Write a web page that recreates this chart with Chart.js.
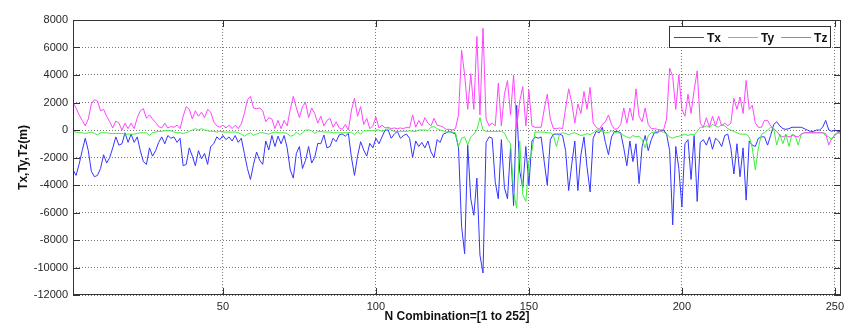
<!DOCTYPE html>
<html>
<head>
<meta charset="utf-8">
<script src="https://cdn.jsdelivr.net/npm/chart.js@4.4.0/dist/chart.umd.min.js"></script>
<style>
  html, body { margin: 0; padding: 0; background: #fff; }
  #wrap { width: 850px; height: 331px; }
</style>
</head>
<body>
<div id="wrap"><canvas id="c" width="850" height="331"></canvas></div>
<script>
// values, one per combination 1..252
var tx = [-2900,-3300,-2500,-1500,-600,-1500,-3000,-3400,-3300,-2800,
  -1800,-2400,-2000,-1300,-500,-1100,-1000,-200,-900,-300,
  -900,-500,-1500,-2300,-2500,-1300,-1900,-1500,-900,-500,
  -1000,-400,-600,-500,-900,-600,-2600,-2500,-1300,-1900,
  -2600,-1500,-2100,-1700,-2500,-1200,-1000,-500,-700,-400,
  -700,-500,-800,-400,-900,-600,-1700,-2800,-3600,-2500,
  -1600,-2200,-2500,-800,-1450,-400,-1200,-450,-1000,-400,
  -1300,-2900,-3500,-1700,-1200,-2800,-2200,-1200,-2400,-2000,
  -970,-1000,-360,-1300,-1200,-600,-850,-360,-290,-450,
  -240,-2000,-3300,-1900,-850,-1450,-1900,-970,-1300,-600,
  -1000,-500,0,0,-600,-300,-100,-600,-400,-300,
  -600,-2000,-800,-1200,-900,-1300,-800,-1600,-2000,-700,
  -900,-300,-200,-100,-200,-300,-1300,-7000,-9000,-1100,
  -5000,-6200,-3500,-9100,-10400,-900,-500,-600,-3800,-5000,
  -700,-4200,-5000,-1300,-5500,1800,-3000,-4200,-1200,-4000,
  -800,-500,-600,-500,-2300,-4000,-700,-300,-300,-300,
  -400,-1500,-4400,-2500,-800,-4400,-1800,-500,-2700,-4500,
  -600,-100,-200,200,-900,-1800,-500,-100,-100,-200,
  -1300,-2600,-800,-2300,-1000,-3900,-1200,-400,-1500,-700,
  -200,-200,-50,0,-300,-1500,-6900,-1200,-2800,-5600,
  -1000,-700,-3600,-400,-5200,-900,-700,-1100,-500,-1400,
  -600,-800,-1200,-400,-300,-1300,-3200,-1000,-3400,-1300,
  -5100,-800,-1100,-1200,-600,-500,-500,-1100,-400,400,
  600,300,100,50,100,200,200,200,200,100,
  0,-100,-100,0,0,200,700,0,-100,0,
  -100,-100];

var ty = [-100,-150,-200,-200,-250,-200,-150,-250,-350,-200,
  -200,-200,-250,-250,-250,-250,-250,-300,-300,-300,
  -300,-250,-200,-200,-200,-400,-200,-150,-100,-100,
  -50,-50,-50,-150,-200,-200,-250,-200,-100,0,
  100,0,100,0,-50,-100,-100,-150,-100,-150,
  -150,-150,-150,-150,-200,-300,-450,-300,-200,-400,
  -300,-200,-200,-250,-300,-200,-150,-200,-200,-200,
  -250,-450,-400,-150,-350,-200,0,0,-50,-250,
  -100,-100,-150,-150,-150,-200,-200,-200,-200,-200,
  -200,-150,-350,-100,-300,-50,-50,-50,-50,0,
  0,-100,0,100,0,-100,-100,-100,-100,-100,
  -50,-100,-100,0,0,0,-50,200,250,100,
  0,-50,-150,-150,-150,-200,-1200,-600,-500,-1100,
  -500,-300,0,900,0,-100,-100,-100,-100,-100,
  -100,-200,-700,-1000,-4500,-5700,-800,-4700,-5200,-2300,
  -1500,-150,-150,-150,-150,-200,-200,-400,-1200,-300,
  -200,-250,-350,-250,-200,-300,-400,-350,-250,-350,
  -200,0,0,-100,-200,-200,-50,-200,-200,-250,
  -400,-500,-600,-400,-500,-450,-700,-1300,-400,-200,
  -150,-100,-100,-150,-300,-500,-600,-500,-450,-400,
  -300,-400,-300,-350,-100,200,200,300,200,400,
  300,200,400,300,100,0,-100,-200,-300,-300,
  -300,-500,-1300,-2900,-1300,-300,-200,0,200,100,
  -1100,-300,-1000,-300,-1200,-300,-400,-1100,-300,-200,
  -200,-200,-200,-200,-200,-200,-400,-500,-700,-300,
  -200,-200];

var tz = [2000,1600,1100,700,300,800,1900,2200,2100,1400,
  1500,1000,600,150,650,500,0,500,100,500,
  100,900,1400,1550,850,1100,800,550,250,150,
  500,150,250,200,350,100,1000,1700,1500,800,
  1400,1000,1300,900,1500,1300,600,300,200,350,
  150,350,100,350,100,450,1200,2200,2450,1600,
  1550,1600,1400,600,900,800,100,700,100,700,
  300,1500,2450,1600,900,1700,2000,900,1600,1200,
  500,1000,300,700,850,200,600,150,50,400,
  0,1450,2300,1000,1700,400,850,100,300,950,
  150,350,150,200,100,150,100,150,100,200,
  150,1100,200,700,300,900,500,300,850,350,
  300,200,50,50,0,100,1100,5800,4000,1500,
  4100,1500,6800,1100,7400,800,300,500,300,3400,
  300,2600,3600,1100,4000,200,2100,3150,300,2900,
  300,200,200,200,1500,2600,800,100,100,150,
  100,1600,3000,2000,500,1900,1200,2800,1500,3100,
  500,200,50,400,600,1100,400,50,100,400,
  1600,500,1600,700,3000,1000,600,1600,400,100,
  100,50,0,0,800,4500,3900,1500,4000,1500,
  1000,2600,1200,2900,4300,500,200,900,200,1000,
  300,1000,300,500,300,500,2300,1500,2400,1200,
  3600,1500,1800,500,200,200,700,700,300,100,
  -100,-400,-500,-400,-500,-400,-450,-500,-300,-200,
  -200,-200,-200,-200,-200,-200,-250,-1100,-600,-400,
  -200,-250];

var seriesNames = ['Tx', 'Ty', 'Tz'];
var seriesColors = ['#3535ff', '#3cf03c', '#ff44ff'];
var xTickValues = [50, 100, 150, 200, 250];
var yMin = -12000, yMax = 8000, yStep = 2000;

var FONT = '"Liberation Sans", Arial, Helvetica, sans-serif';

function toPoints(arr) {
  var pts = [];
  for (var i = 0; i < arr.length; i++) {
    pts.push({x: i + 1, y: arr[i]});
  }
  return pts;
}

// matlab style box with inward ticks on all four sides
var boxAxes = {
  id: 'boxAxes',
  beforeDatasetsDraw: function(chart) {
    var ctx = chart.ctx, a = chart.chartArea;
    var xs = chart.scales.x, ys = chart.scales.y;
    ctx.save();
    ctx.strokeStyle = '#333';
    ctx.lineWidth = 1;
    ctx.beginPath();
    xs.ticks.forEach(function(t) {
      var px = Math.round(xs.getPixelForValue(t.value)) + 0.5;
      ctx.moveTo(px, a.bottom); ctx.lineTo(px, a.bottom - 7);
      ctx.moveTo(px, a.top); ctx.lineTo(px, a.top + 7);
    });
    ys.ticks.forEach(function(t) {
      var py = Math.round(ys.getPixelForValue(t.value)) + 0.5;
      ctx.moveTo(a.left, py); ctx.lineTo(a.left + 7, py);
      ctx.moveTo(a.right, py); ctx.lineTo(a.right - 7, py);
    });
    ctx.stroke();
    ctx.restore();
  },
  afterDatasetsDraw: function(chart) {
    var ctx = chart.ctx, a = chart.chartArea;
    ctx.save();
    ctx.strokeStyle = '#333';
    ctx.lineWidth = 1;
    ctx.strokeRect(Math.round(a.left) + 0.5, Math.round(a.top) + 0.5,
      Math.round(a.right - a.left) - 1, Math.round(a.bottom - a.top) - 1);
    ctx.restore();
  }
};

// legend drawn inside the plot, top right
var boxLegend = {
  id: 'boxLegend',
  afterDraw: function(chart) {
    var ctx = chart.ctx, a = chart.chartArea;
    ctx.save();
    ctx.font = 'bold 12px ' + FONT;
    var lineLen = 30, gapText = 3, gapItem = 7, padL = 5, padR = 3;
    var w = padL + padR;
    seriesNames.forEach(function(name, i) {
      w += lineLen + gapText + ctx.measureText(name).width;
      if (i < seriesNames.length - 1) w += gapItem;
    });
    w = Math.round(w);
    var h = 21;
    var right = Math.round(a.right) - 11;
    var top = Math.round(a.top) + 6;
    var left = right - w;
    ctx.fillStyle = '#fff';
    ctx.fillRect(left, top, w, h);
    ctx.strokeStyle = '#333';
    ctx.lineWidth = 1;
    ctx.strokeRect(left + 0.5, top + 0.5, w, h);
    var x = left + padL;
    var y = top + Math.round(h / 2) + 0.5;
    ctx.textBaseline = 'middle';
    ctx.textAlign = 'left';
    seriesNames.forEach(function(name, i) {
      ctx.strokeStyle = seriesColors[i];
      ctx.lineWidth = 1;
      ctx.beginPath();
      ctx.moveTo(x, y);
      ctx.lineTo(x + lineLen, y);
      ctx.stroke();
      x += lineLen + gapText;
      ctx.fillStyle = '#111';
      ctx.fillText(name, x, y + 1);
      x += ctx.measureText(name).width + gapItem;
    });
    ctx.restore();
  }
};

var values = [tx, ty, tz];

var datasets = seriesNames.map(function(name, i) {
  return {
    label: name,
    data: toPoints(values[i]),
    borderColor: seriesColors[i],
    backgroundColor: seriesColors[i],
    borderWidth: 1,
    pointRadius: 0,
    tension: 0,
    fill: false,
    order: 3 - i
  };
});

new Chart(document.getElementById('c'), {
  type: 'line',
  data: { datasets: datasets },
  plugins: [boxAxes, boxLegend],
  options: {
    responsive: false,
    devicePixelRatio: 1,
    animation: false,
    layout: { padding: { left: 0, right: 9, top: 20, bottom: 0 } },
    plugins: {
      legend: { display: false },
      tooltip: { enabled: false }
    },
    scales: {
      x: {
        type: 'linear',
        min: 1,
        max: 252,
        afterBuildTicks: function(scale) {
          scale.ticks = xTickValues.map(function(v) { return {value: v}; });
        },
        afterFit: function(scale) { scale.height = 36; },
        grid: { color: '#7a7a7a', lineWidth: 1, drawTicks: false },
        border: { display: false, dash: [1, 2] },
        ticks: {
          padding: 5,
          color: '#262626',
          font: { family: FONT, size: 11 },
          maxRotation: 0,
          callback: function(v) { return String(v); }
        },
        title: {
          display: true,
          text: 'N Combination=[1 to 252]',
          color: '#111',
          font: { family: FONT, size: 12, weight: 'bold' },
          padding: { top: 0, bottom: 7 }
        }
      },
      y: {
        min: yMin,
        max: yMax,
        afterFit: function(scale) { scale.width = 73; },
        grid: { color: '#7a7a7a', lineWidth: 1, drawTicks: false },
        border: { display: false, dash: [1, 2] },
        ticks: {
          stepSize: yStep,
          padding: 5,
          color: '#262626',
          font: { family: FONT, size: 11 },
          callback: function(v) { return String(v); }
        },
        title: {
          display: true,
          text: 'Tx,Ty,Tz(m)',
          color: '#111',
          font: { family: FONT, size: 12, weight: 'bold' },
          padding: { top: 16, bottom: 0 }
        }
      }
    }
  }
});
</script>
</body>
</html>
